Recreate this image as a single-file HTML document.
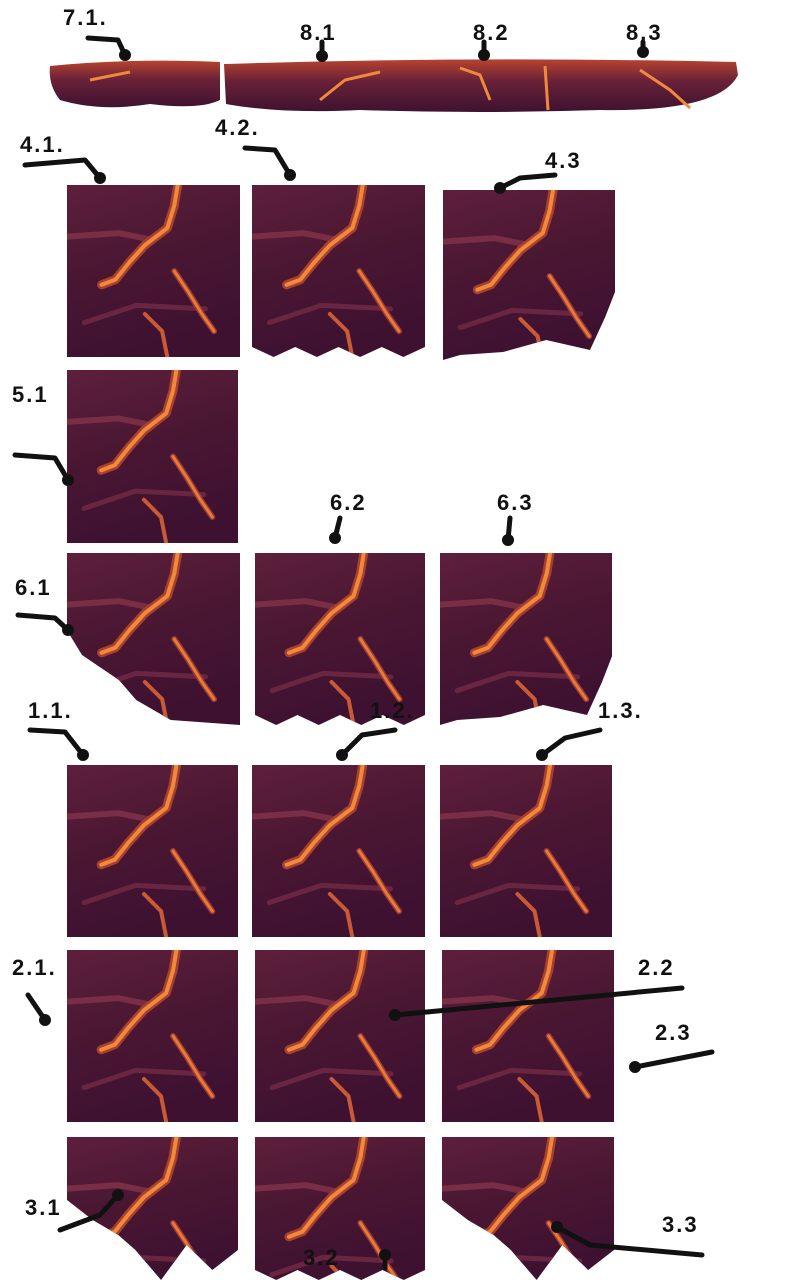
<!DOCTYPE html>
<html><head><meta charset="utf-8"><style>
html,body{margin:0;padding:0;background:#fff;width:808px;height:1280px;overflow:hidden}
svg{display:block}
.lbl{font-family:"Liberation Sans",sans-serif;font-weight:bold;font-size:22px;fill:#111;letter-spacing:2px}
</style></head><body>
<svg id="sheet" width="808" height="1280" viewBox="0 0 808 1280" xmlns="http://www.w3.org/2000/svg">
<defs>
<linearGradient id="tg" x1="0" y1="0" x2="0.3" y2="1">
<stop offset="0" stop-color="#5e1f3c"/><stop offset="0.5" stop-color="#4a1732"/><stop offset="1" stop-color="#3e1131"/>
</linearGradient>
<linearGradient id="sg" x1="0" y1="0" x2="0" y2="1">
<stop offset="0" stop-color="#b8432e"/><stop offset="0.4" stop-color="#6a2238"/><stop offset="1" stop-color="#3e1230"/>
</linearGradient>
</defs>
<g id="tiles"></g>
<g id="labels"></g>
</svg>
<script>
const NS="http://www.w3.org/2000/svg";
const tilesG=document.getElementById('tiles');
const labelsG=document.getElementById('labels');
const tiles=[
["tile-4-1",67,185,173,172,"flat"],["tile-4-2",252,185,173,172,"wavy"],["tile-4-3",443,190,172,170,"jag"],
["tile-5-1",67,370,171,173,"flat"],
["tile-6-1",67,553,173,172,"jagL"],["tile-6-2",255,553,170,172,"wavy"],["tile-6-3",440,553,172,172,"jag"],
["tile-1-1",67,765,171,172,"flat"],["tile-1-2",252,765,173,172,"flat"],["tile-1-3",440,765,172,172,"flat"],
["tile-2-1",67,950,171,172,"flat"],["tile-2-2",255,950,170,172,"flat"],["tile-2-3",442,950,172,172,"flat"],
["tile-3-1",67,1137,171,143,"jag3"],["tile-3-2",255,1137,170,143,"wavy3"],["tile-3-3",442,1137,172,143,"jag3"]
];
function outline(x,y,w,h,t){
  let p=`M${x},${y} L${x+w},${y} `;
  const b=y+h;
  if(t==="flat"){p+=`L${x+w},${b} L${x},${b} Z`;}
  else if(t==="wavy"||t==="wavy3"){
    p+=`L${x+w},${b-8} `;
    for(let i=8;i>=0;i--){const xx=x+w*i/8;p+=`L${xx},${b-(i%2?0:10)} `;}
    p+="Z";
  } else if(t==="jag"){
    p+=`L${x+w},${y+h*0.6} L${x+w-10},${y+h*0.75} L${x+w-25},${b-10} L${x+w*0.6},${b-20} L${x+w*0.35},${b-8} L${x+w*0.1},${b-5} L${x},${b} Z`;
  } else if(t==="jagL"){
    p+=`L${x+w},${b} L${x+w*0.6},${b-5} L${x+w*0.4},${b-25} L${x+w*0.3},${b-45} L${x+15},${b-70} L${x},${y+h*0.45} Z`;
  } else if(t==="jag3"){
    p+=`L${x+w},${b-30} L${x+w*0.85},${b-10} L${x+w*0.7},${b-35} L${x+w*0.55},${b} L${x+w*0.4},${b-30} L${x+w*0.3},${b-45} L${x+w*0.15},${b-60} L${x},${b-80} Z`;
  }
  return p;
}
function crack(x,y,w,h,d,sw,col){
  const s=d.map(([a,b])=>`${x+a*w},${y+b*h}`).join(' L');
  const p=document.createElementNS(NS,'path');
  p.setAttribute('d','M'+s);p.setAttribute('fill','none');p.setAttribute('stroke',col);
  p.setAttribute('stroke-width',sw);p.setAttribute('stroke-linecap','round');p.setAttribute('stroke-linejoin','round');
  return p;
}
const main=[[0.64,0],[0.62,0.12],[0.58,0.25],[0.45,0.35],[0.36,0.45],[0.28,0.55],[0.2,0.58]];
const sec=[[0.62,0.5],[0.7,0.62],[0.78,0.75],[0.85,0.85]];
const thr=[[0.45,0.75],[0.55,0.85],[0.58,1]];
const str=[[0,0.3],[0.3,0.28],[0.5,0.32]];
tiles.forEach(([n,x,y,w,h,t],i)=>{
  const g=document.createElementNS(NS,'g');
  
  
  const cp=document.createElementNS(NS,'clipPath');cp.id='c'+i;
  const cpp=document.createElementNS(NS,'path');cpp.setAttribute('d',outline(x,y,w,h,t));cp.appendChild(cpp);g.appendChild(cp);
  const body=document.createElementNS(NS,'path');body.setAttribute('d',outline(x,y,w,h,t));body.setAttribute('fill','url(#tg)');g.appendChild(body);
  const inner=document.createElementNS(NS,'g');inner.setAttribute('clip-path',`url(#c${i})`);
  const hh=Math.max(h,172);
  inner.appendChild(crack(x,y,w,hh,str,6,'#7a2e45'));
  inner.appendChild(crack(x,y,w,hh,[[0.1,0.8],[0.4,0.7],[0.8,0.72]],5,'#6a2640'));
  inner.appendChild(crack(x,y,w,hh,main,9,'#a8402f'));
  inner.appendChild(crack(x,y,w,hh,main,4,'#f08a3a'));
  inner.appendChild(crack(x,y,w,hh,sec,6,'#9a3a34'));
  inner.appendChild(crack(x,y,w,hh,sec,3,'#e87a35'));
  inner.appendChild(crack(x,y,w,hh,thr,4,'#c85a35'));
  g.appendChild(inner);
  tilesG.appendChild(g);
});
[["strip-7-1","M50,66 Q130,58 220,62 L220,100 Q200,110 150,104 Q100,112 60,100 Q48,85 50,66 Z"],
 ["strip-8","M224,64 Q480,56 736,62 L738,75 Q720,112 600,110 Q480,114 360,110 Q280,114 226,104 Z"]].forEach(([n,d])=>{
  const p=document.createElementNS(NS,'path');
  
  
  p.setAttribute('d',d);p.setAttribute('fill','url(#sg)');tilesG.appendChild(p);
});
[[[320,100],[345,80],[380,72]],[[460,68],[480,75],[490,100]],[[545,66],[548,110]],[[640,70],[670,90],[690,108]],[[90,80],[130,72]]].forEach(pts=>{
  const p=document.createElementNS(NS,'path');
  
  
  p.setAttribute('d','M'+pts.map(q=>q.join(',')).join(' L'));
  p.setAttribute('stroke','#f08a3a');p.setAttribute('stroke-width','3');p.setAttribute('fill','none');tilesG.appendChild(p);
});
const labels=[
["7.1.",63,25,"M88,38 L118,40 L125,55"],["8.1",300,40,"M322,42 L322,56"],["8.2",473,40,"M484,42 L484,55"],["8.3",626,40,"M643,42 L643,52"],
["4.1.",20,152,"M25,165 L85,160 L100,178"],["4.2.",215,135,"M245,148 L275,150 L290,175"],["4.3",545,168,"M555,175 L520,178 L500,188"],
["5.1",12,402,"M15,455 L55,458 L68,480"],["6.1",15,595,"M18,615 L55,618 L68,630"],["6.2",330,510,"M340,518 L335,538"],["6.3",497,510,"M510,518 L508,540"],
["1.1.",28,718,"M30,730 L65,732 L83,755"],["1.2.",370,718,"M395,730 L362,735 L342,755"],["1.3.",598,718,"M600,730 L565,738 L542,755"],
["2.1.",12,975,"M28,995 L45,1020"],["2.2",638,975,"M682,988 L395,1015"],["2.3",655,1040,"M712,1052 L635,1067"],
["3.1",25,1215,"M60,1230 L100,1215 L118,1195"],["3.2",303,1265,"M385,1268 L385,1255"],["3.3",662,1232,"M702,1255 L590,1245 L557,1227"]
];
labels.forEach(([t,x,y,d])=>{
  const tx=document.createElementNS(NS,'text');
  
  
  tx.setAttribute('x',x);tx.setAttribute('y',y);tx.setAttribute('class','lbl');tx.textContent=t;labelsG.appendChild(tx);
  const a=document.createElementNS(NS,'path');
  
  
  a.setAttribute('d',d);a.setAttribute('stroke','#111');a.setAttribute('stroke-width','5');a.setAttribute('fill','none');
  a.setAttribute('stroke-linecap','round');a.setAttribute('stroke-linejoin','round');labelsG.appendChild(a);
  const pts=d.replace('M','').split(' L').map(s=>s.split(',').map(Number));
  const e=pts[pts.length-1];
  const c=document.createElementNS(NS,'circle');
  
  
  c.setAttribute('cx',e[0]);c.setAttribute('cy',e[1]);c.setAttribute('r',6);c.setAttribute('fill','#111');labelsG.appendChild(c);
});
</script>
</body></html>
